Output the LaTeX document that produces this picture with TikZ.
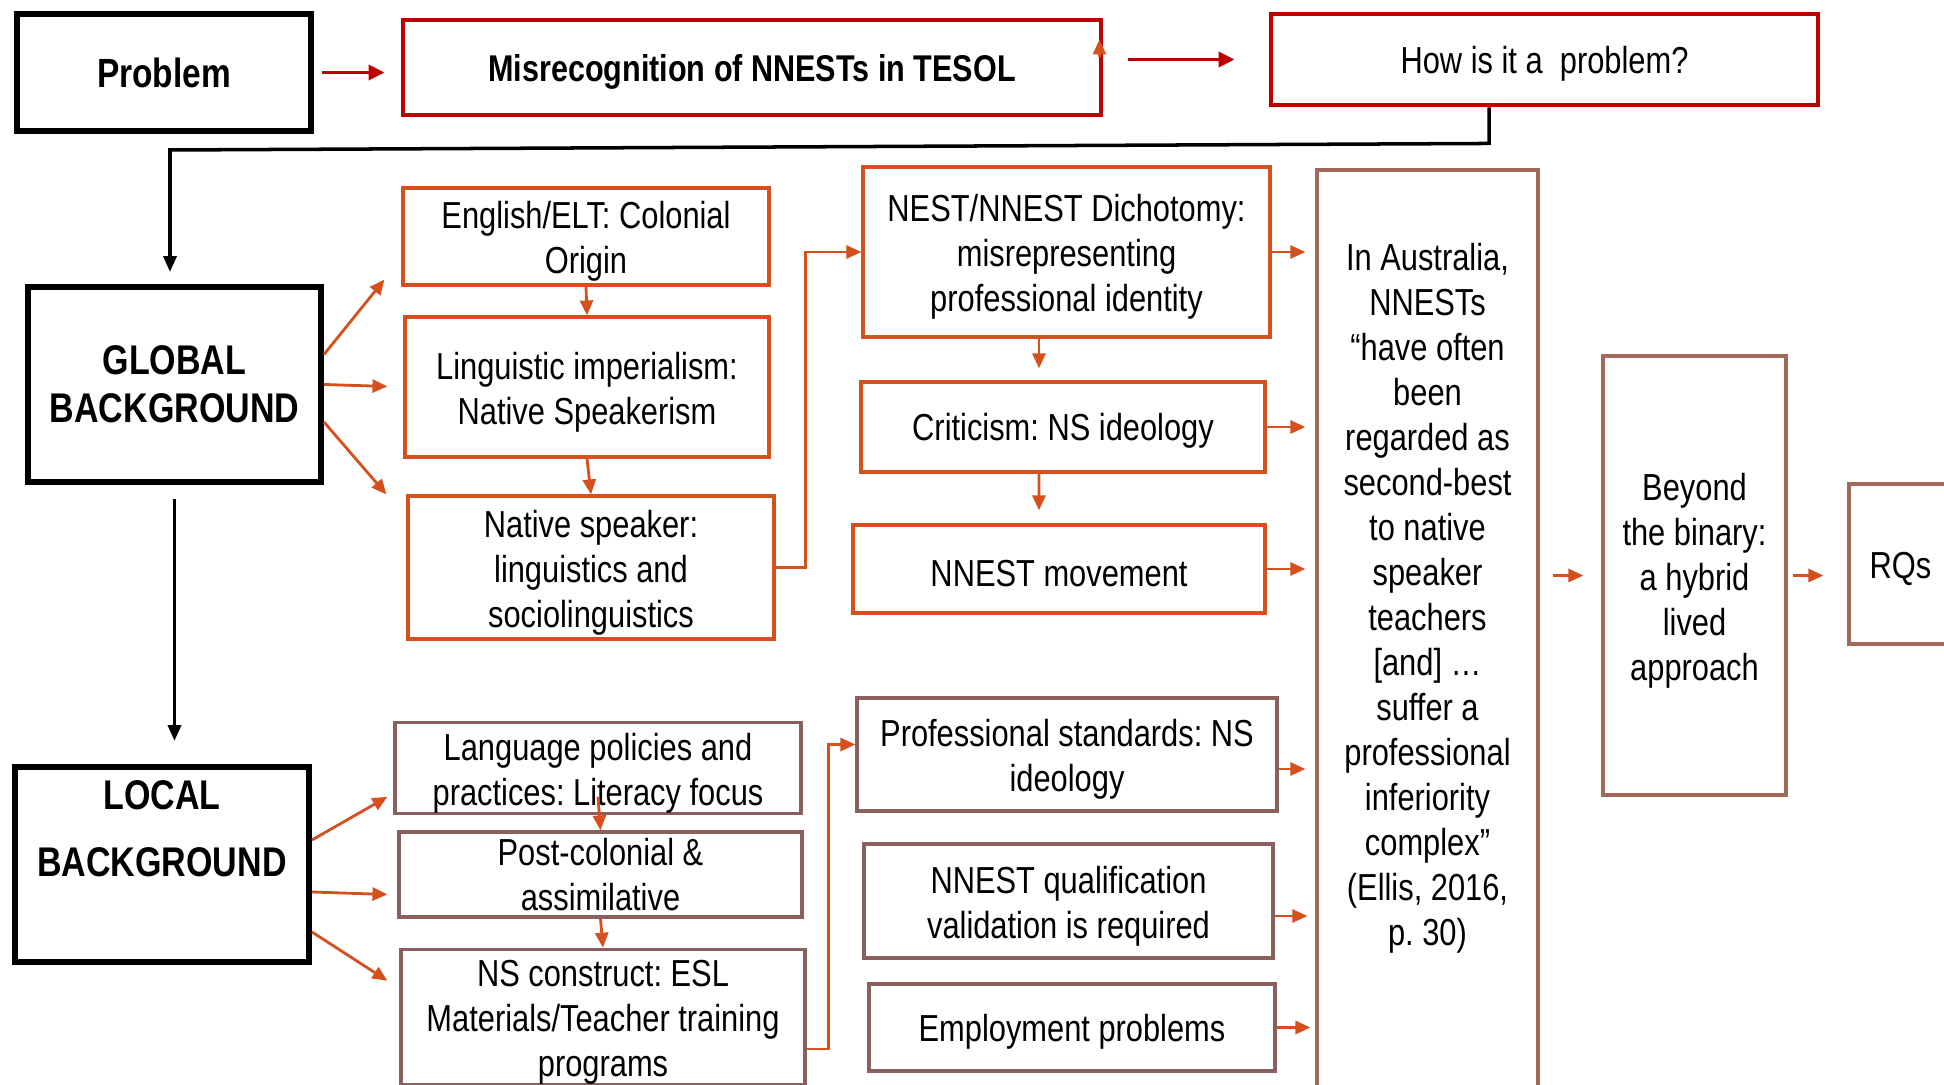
\documentclass[tikz,border=0pt]{standalone}
\usepackage{fontspec}
\setmainfont{Liberation Sans}[FakeStretch=0.82]
\usetikzlibrary{arrows.meta,positioning}

\definecolor{boxred}{RGB}{192,0,0}
\definecolor{boxorange}{RGB}{214,80,30}
\definecolor{boxbrown}{RGB}{140,95,95}
\definecolor{sidebrown}{RGB}{160,105,90}

% strut for the first line of a multi-line box
\newcommand{\tstrut}{\rule{0pt}{1em}}

\begin{document}
\frenchspacing
\begin{tikzpicture}[
        x=0.1mm, y=-0.1mm,
        txt/.style={align=center, font=\fontsize{10.7}{12.8}\selectfont, execute at begin node={\rule{0pt}{0.94em}}},
        bigbox/.style={draw=black, line width=1.7pt, inner sep=0pt, align=center, font=\bfseries\fontsize{11.8}{13.7}\selectfont},
        redbox/.style={draw=boxred, line width=1.4pt, inner sep=0pt, txt},
        gbox/.style={draw=boxorange, line width=0.9pt, inner sep=0pt, txt},
        lbox/.style={draw=boxbrown, line width=0.9pt, inner sep=0pt, txt},
        sbox/.style={draw=sidebrown, line width=0.9pt, inner sep=0pt, txt},
        oarrow/.style={-{Triangle[length=1.5mm,width=1.3mm]}, draw=boxorange, line width=0.8pt},
        rarrow/.style={-{Triangle[length=1.6mm,width=1.5mm]}, draw=boxred, line width=1.1pt},
        karrow/.style={-{Triangle[length=1.6mm,width=1.3mm]}, draw=black, line width=1pt}
    ]
        \useasboundingbox (0,0) rectangle (1944,1085);
        \clip (0,0) rectangle (1944,1085);

        % top row
        \node[bigbox, minimum width=29.4mm, minimum height=11.7mm, font=\bfseries\fontsize{11.6}{13}\selectfont] (problem) at (164,72.5) {Problem};
        \node[redbox, minimum width=69.8mm, minimum height=9.5mm, font=\bfseries\fontsize{10.6}{12}\selectfont] (misrec) at (752,67.5) {Misrecognition of NNESTs in TESOL};
        \node[redbox, minimum width=54.7mm, minimum height=9.1mm] (how) at (1544.5,59.5) {How is it a~ problem?};

        % backgrounds
        \node[bigbox, minimum width=29.3mm, minimum height=19.5mm] (global) at (174.5,384.5) {GLOBAL\\BACKGROUND};
        \node[bigbox, minimum width=29.4mm, minimum height=19.5mm] (local) at (162,864.5) {};
        \node[bigbox, draw=none] (localtxt) at (162,829) {LOCAL\\[5.3pt]BACKGROUND};

        % global column
        \node[gbox, minimum width=36.6mm, minimum height=9.7mm] (eng) at (586,236.5) {\tstrut English/ELT: Colonial\\Origin};
        \node[gbox, minimum width=36.4mm, minimum height=14mm] (ling) at (587,387) {\tstrut Linguistic imperialism:\\Native Speakerism};
        \node[gbox, minimum width=36.6mm, minimum height=14.3mm] (native) at (591,567.5) {\tstrut Native speaker:\\linguistics and\\sociolinguistics};
        \node[gbox, minimum width=40.7mm, minimum height=17mm] (nest) at (1066.5,252) {\tstrut NEST/NNEST Dichotomy:\\misrepresenting\\professional identity};
        \node[gbox, minimum width=40.4mm, minimum height=9mm] (crit) at (1063,427) {Criticism: NS ideology};
        \node[gbox, minimum width=41.2mm, minimum height=8.8mm] (move) at (1059,569) {NNEST movement};

        % local column
        \node[lbox, minimum width=40.6mm, minimum height=9mm] (lang) at (598,768) {\tstrut Language policies and\\practices: Literacy focus};
        \node[lbox, minimum width=40.3mm, minimum height=8.5mm] (post) at (600.5,874.5) {Post-colonial \&\\assimilative};
        \node[lbox, minimum width=40.4mm, minimum height=13.4mm] (nscon) at (603,1017) {\tstrut NS construct: ESL\\Materials/Teacher training\\programs};
        \node[lbox, minimum width=42mm, minimum height=11.3mm] (prof) at (1067,754.5) {\tstrut Professional standards: NS\\ideology};
        \node[lbox, minimum width=40.9mm, minimum height=11.4mm] (qual) at (1068.5,901) {\tstrut NNEST qualification\\validation is required};
        \node[lbox, minimum width=40.6mm, minimum height=8.7mm] (employ) at (1072,1027.5) {Employment problems};

        % right side
        \node[sbox, minimum width=22.1mm, minimum height=93mm] (aus) at (1427.5,635) {};
        \node[txt] (austxt) at (1427.5,593) {\tstrut In Australia,\\NNESTs\\“have often\\been\\regarded as\\second-best\\to native\\speaker\\teachers\\{}[and] …\\suffer a\\professional\\inferiority\\complex”\\(Ellis, 2016,\\p. 30)};
        \node[sbox, minimum width=18.3mm, minimum height=43.9mm] (beyond) at (1694.5,575.5) {\tstrut Beyond\\the binary:\\a hybrid\\lived\\approach};
        \node[sbox, minimum width=10.3mm, minimum height=16mm] (rqs) at (1900.5,564) {RQs};

        % top arrows
        \draw[rarrow, shorten <=0.8mm, shorten >=1.6mm] (problem.east) -- (problem.east -| misrec.west);
        \draw[rarrow, shorten <=2.5mm, shorten >=3.4mm] (misrec.east |- how.west) -- (how.west);
        \draw[oarrow] ([xshift=-0.4mm,yshift=1mm]misrec.east) -- ++(0,1.8mm);
        \coordinate (bend) at (170,150);
        \draw[karrow, shorten >=1.2mm] ([xshift=-5.55mm]how.south) -- ++(0,-3.6mm) -- (bend) -- (bend |- global.north);
        \draw[karrow, shorten <=1.4mm, shorten >=2.3mm] (global.south) -- (global.south |- local.north);

        % global arrows
        \draw[oarrow] ([yshift=3mm]global.east) -- ([xshift=-1.7mm,yshift=0.7mm]eng.south west);
        \draw[oarrow, shorten >=1.6mm] (global.east) -- (ling.west);
        \draw[oarrow] ([yshift=-3.75mm]global.east) -- ([xshift=-2mm]native.north west);
        \draw[oarrow] (eng.south) -- (ling.north);
        \draw[oarrow] (ling.south) -- (native.north);
        \draw[oarrow] (native.east) -- ++(3mm,0) |- (nest.west);
        \draw[oarrow, shorten >=1.2mm] ([xshift=-2.75mm]nest.south) -- ([xshift=-2.4mm]crit.north);
        \draw[oarrow, shorten >=1.3mm] ([xshift=-2.4mm]crit.south) -- ([xshift=-2mm]move.north);

        % local arrows
        \draw[oarrow] ([yshift=2.45mm]local.east) -- ([xshift=-0.6mm,yshift=1.8mm]lang.south west);
        \draw[oarrow] ([yshift=-2.75mm]local.east) -- ([xshift=-1mm,yshift=-2mm]post.west);
        \draw[oarrow] ([yshift=-6.75mm]local.east) -- ([xshift=-1.2mm,yshift=-3.3mm]nscon.north west);
        \draw[oarrow] ([yshift=1.8mm]lang.south) -- (post.north);
        \draw[oarrow] (post.south) -- (nscon.north);
        \draw[oarrow] ([yshift=-3.2mm]nscon.east) -- ++(2.2mm,0) |- ([yshift=1mm]prof.west);

        % into the Australia box
        \draw[oarrow, shorten >=1mm] (nest.east) -- (nest.east -| aus.west);
        \draw[oarrow, shorten >=1mm] (crit.east) -- (crit.east -| aus.west);
        \draw[oarrow, shorten >=1mm] (move.east) -- (move.east -| aus.west);
        \draw[oarrow, shorten >=1mm] ([yshift=-1.45mm]prof.east) -- ([yshift=-1.45mm]prof.east -| aus.west);
        \draw[oarrow, shorten >=0.8mm] ([yshift=-1.5mm]qual.east) -- ([yshift=-1.5mm]qual.east -| aus.west);
        \draw[oarrow, shorten >=0.5mm] (employ.east) -- (employ.east -| aus.west);

        % to the end
        \draw[oarrow, shorten <=1.3mm, shorten >=1.8mm] (aus.east |- beyond.west) -- (beyond.west);
        \draw[oarrow, shorten <=0.5mm, shorten >=2.4mm] (beyond.east) -- (beyond.east -| rqs.west);
    \end{tikzpicture}
\end{document}
